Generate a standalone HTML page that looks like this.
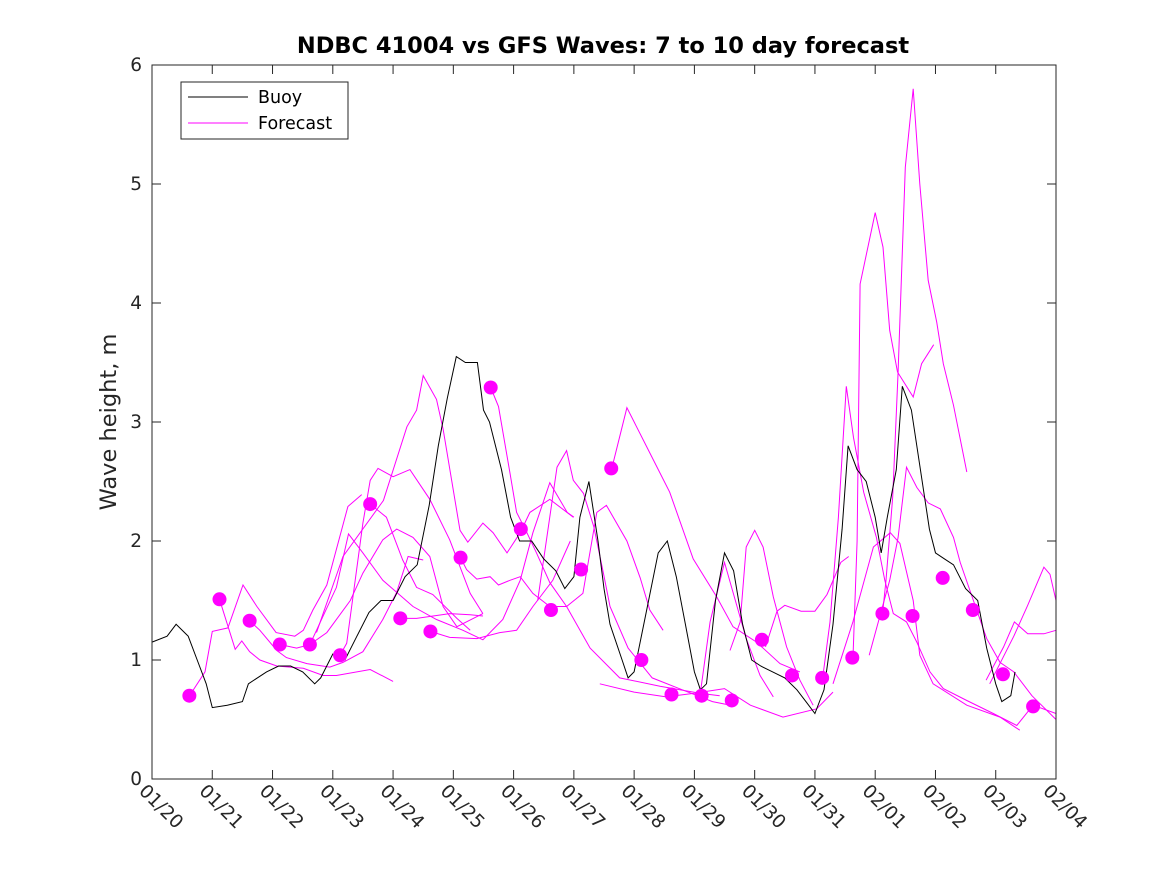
<!DOCTYPE html>
<html><head><meta charset="utf-8"><style>
body{margin:0;background:#fff}
svg{display:block;font-family:"DejaVu Sans","Liberation Sans",sans-serif}
</style></head><body>
<svg id="chart" width="1167" height="875" viewBox="0 0 1167 875">
<rect width="1167" height="875" fill="#fff"/>
<text x="603" y="53" text-anchor="middle" font-size="22.5" font-weight="bold" fill="#000">NDBC 41004 vs GFS Waves: 7 to 10 day forecast</text>
<text transform="translate(116,422) rotate(-90)" text-anchor="middle" font-size="22.5" fill="#262626">Wave height, m</text>
<g id="plot"></g>
<g id="axes"></g>
<g>
<rect x="181" y="82" width="167" height="57" fill="#fff" stroke="#262626" stroke-width="1"/>
<line x1="188" y1="97" x2="248" y2="97" stroke="#000" stroke-width="1"/>
<text x="258" y="103" font-size="17.5" fill="#000">Buoy</text>
<line x1="188" y1="123" x2="248" y2="123" stroke="#ff00ff" stroke-width="1"/>
<text x="258" y="129" font-size="17.5" fill="#000">Forecast</text>
</g>
</svg>
<script>
// x in days since 01/20, y in metres
const xTickLabels=["01/20","01/21","01/22","01/23","01/24","01/25","01/26","01/27","01/28","01/29","01/30","01/31","02/01","02/02","02/03","02/04"];
const yTickLabels=["0","1","2","3","4","5","6"];
const buoyDays=[0,0.25,0.4,0.6,0.75,0.9,1.0,1.25,1.5,1.6,1.9,2.1,2.3,2.5,2.7,2.8,3.0,3.2,3.4,3.6,3.8,4.0,4.2,4.4,4.6,4.75,4.9,5.05,5.2,5.4,5.5,5.6,5.8,5.95,6.1,6.3,6.5,6.7,6.85,7.0,7.1,7.25,7.4,7.5,7.6,7.8,7.9,8.0,8.2,8.4,8.55,8.7,8.85,9.0,9.1,9.2,9.35,9.5,9.65,9.8,9.95,10.1,10.3,10.5,10.7,10.85,11.0,11.15,11.3,11.45,11.55,11.7,11.85,12.0,12.1,12.2,12.35,12.45,12.6,12.75,12.9,13.0,13.15,13.3,13.5,13.7,13.85,14.0,14.1,14.25,14.32];
const buoyHeights=[1.15,1.2,1.3,1.2,1.0,0.8,0.6,0.62,0.65,0.8,0.9,0.95,0.95,0.9,0.8,0.85,1.05,1.0,1.2,1.4,1.5,1.5,1.7,1.8,2.3,2.8,3.2,3.55,3.5,3.5,3.1,3.0,2.6,2.2,2.0,2.0,1.85,1.75,1.6,1.7,2.2,2.5,2.0,1.6,1.3,1.0,0.85,0.9,1.4,1.9,2.0,1.7,1.3,0.9,0.75,0.8,1.5,1.9,1.75,1.3,1.0,0.95,0.9,0.85,0.75,0.65,0.55,0.75,1.3,2.1,2.8,2.6,2.5,2.2,1.9,2.2,2.6,3.3,3.1,2.6,2.1,1.9,1.85,1.8,1.6,1.5,1.1,0.8,0.65,0.7,0.9];
const dotDays=[0.62,1.12,1.62,2.12,2.62,3.12,3.62,4.12,4.62,5.12,5.62,6.12,6.62,7.12,7.62,8.12,8.62,9.12,9.62,10.12,10.62,11.12,11.62,12.12,12.62,13.12,13.62,14.12,14.62];
const dotHeights=[0.70,1.51,1.33,1.13,1.13,1.04,2.31,1.35,1.24,1.86,3.29,2.10,1.42,1.76,2.61,1.00,0.71,0.70,0.66,1.17,0.87,0.85,1.02,1.39,1.37,1.69,1.42,0.88,0.61];
const fcA=[[0.61,0.69],[0.88,0.90],[1.0,1.24],[1.26,1.27],[1.51,1.63],[1.74,1.45],[2.06,1.23],[2.37,1.20],[2.51,1.25],[2.67,1.42],[2.90,1.63],[3.25,2.29],[3.48,2.39]];
const fcB=[[1.12,1.51],[1.38,1.09],[1.49,1.16],[1.62,1.07],[1.79,1.0],[2.07,0.95],[2.51,0.93],[2.84,0.87],[3.06,0.87],[3.62,0.92],[4.0,0.82]];
const fcC=[[1.62,1.33],[1.79,1.25],[2.07,1.08],[2.23,1.02],[2.57,0.97],[2.95,0.94],[3.17,0.98],[3.50,1.07],[3.83,1.34],[4.06,1.57],[4.25,1.87],[4.50,1.84]];
const fcD=[[2.12,1.13],[2.40,1.10],[2.62,1.13],[2.90,1.23],[3.29,1.50],[3.50,1.73],[3.83,2.01],[4.06,2.10],[4.33,2.03],[4.61,1.87],[4.83,1.45],[5.06,1.28],[5.49,1.39]];
const fcE=[[2.62,1.13],[2.73,1.25],[3.06,1.61],[3.26,2.06],[3.50,1.90],[3.83,1.67],[4.33,1.45],[4.72,1.34],[5.16,1.25],[5.49,1.17],[5.82,1.34],[6.11,1.67],[6.32,2.07],[6.60,2.49],[6.89,2.24],[7.0,2.20]];
const fcF=[[3.12,1.04],[3.23,1.14],[3.50,2.15],[3.62,2.51],[3.75,2.61],[4.0,2.54],[4.28,2.60],[4.61,2.35],[4.94,2.01],[5.28,1.56],[5.49,1.39]];
const fcG=[[3.62,2.31],[3.89,2.20],[4.16,1.84],[4.39,1.61],[4.66,1.55],[5.06,1.35],[5.28,1.25]];
const fcH=[[2.73,1.23],[3.17,1.87],[3.84,2.34],[4.23,2.96],[4.39,3.10],[4.50,3.39],[4.72,3.19],[4.83,2.94],[5.11,2.09],[5.24,1.99],[5.49,2.15],[5.66,2.07],[5.89,1.90],[6.11,2.07],[6.27,2.24],[6.60,2.35],[6.99,2.20]];
const fcI=[[4.13,1.35],[4.39,1.35],[4.94,1.39],[5.28,1.38],[5.49,1.37]];
const fcJ=[[4.62,1.24],[4.94,1.19],[5.39,1.18],[5.77,1.23],[6.05,1.25],[6.32,1.45],[6.65,1.67],[6.94,2.0]];
const fcK=[[5.12,1.86],[5.22,1.76],[5.39,1.68],[5.61,1.70],[5.75,1.63],[5.94,1.67],[6.11,1.70],[6.32,1.56],[6.60,1.45],[6.88,1.45],[7.15,1.56],[7.38,2.24],[7.54,2.30],[7.88,2.0],[8.10,1.69],[8.26,1.42],[8.48,1.25]];
const fcL=[[5.62,3.29],[5.75,3.13],[5.94,2.57],[6.05,2.24],[6.22,2.07],[6.38,1.90],[6.60,1.65],[6.88,1.45],[7.27,1.1],[7.76,0.85],[8.43,0.78],[9.09,0.72],[9.42,0.7]];
const fcM=[[7.63,2.61],[7.88,3.12],[8.26,2.74],[8.59,2.41],[8.98,1.85],[9.37,1.53],[9.64,1.28],[10.03,1.15],[10.42,0.97],[10.75,0.90]];
const fcN=[[11.63,1.0],[11.70,2.0],[11.75,4.16],[12.0,4.76],[12.13,4.47],[12.24,3.77],[12.37,3.42],[12.63,3.21],[12.77,3.49],[12.97,3.65]];
const fcO=[[12.12,1.38],[12.18,1.67],[12.29,2.37],[12.38,3.42],[12.50,5.14],[12.63,5.80],[12.74,5.0],[12.88,4.19],[13.02,3.84],[13.13,3.49],[13.30,3.14],[13.52,2.58]];
const fcP=[[11.12,0.82],[11.25,1.32],[11.39,2.2],[11.52,3.30],[11.64,2.87],[11.81,2.41],[12.02,2.03],[12.16,1.67],[12.30,1.39],[12.52,1.32],[12.69,1.15],[12.91,0.90],[13.13,0.76],[13.52,0.66],[13.96,0.55],[14.35,0.45],[14.62,0.62],[15.0,0.55]];
const fcQ=[[11.90,1.04],[12.24,1.67],[12.38,2.03],[12.52,2.62],[12.69,2.45],[12.88,2.32],[13.08,2.27],[13.30,2.03],[13.41,1.82],[13.63,1.50],[13.85,1.18],[14.07,0.98],[14.3,0.9],[14.6,0.7],[15.0,0.5]];
const fcR1=[[13.84,0.83],[14.13,1.11],[14.31,1.32],[14.53,1.22],[14.8,1.22],[15.0,1.25]];
const fcR2=[[13.9,0.8],[14.3,1.2],[14.53,1.46],[14.8,1.78],[14.9,1.72],[15.0,1.5]];
const fcS=[[9.59,1.08],[9.76,1.32],[9.86,1.95],[10.0,2.09],[10.14,1.95],[10.31,1.53],[10.53,1.11],[10.75,0.83],[10.97,0.62]];
const fcT=[[9.09,0.69],[9.26,1.32],[9.50,1.82],[9.64,1.57],[9.86,1.18],[10.09,0.87],[10.31,0.69]];
const fcU=[[7.43,0.80],[8.0,0.73],[8.53,0.69],[9.0,0.72],[9.5,0.76],[9.93,0.62],[10.47,0.52],[11.03,0.59],[11.3,0.73]];
const fcV=[[6.40,1.50],[6.72,2.62],[6.88,2.76],[6.99,2.51],[7.16,2.40],[7.33,2.12],[7.49,1.73],[7.60,1.45],[7.9,1.1],[8.3,0.85],[8.8,0.75],[9.3,0.65],[9.6,0.62]];
const fcW=[[11.3,0.8],[11.63,1.32],[11.97,1.95],[12.25,2.07],[12.41,1.98],[12.63,1.50],[12.74,1.04],[12.96,0.80],[13.52,0.62],[14.07,0.52],[14.4,0.41]];
const fcX=[[10.18,1.11],[10.37,1.41],[10.5,1.46],[10.77,1.41],[11.0,1.41],[11.2,1.55],[11.43,1.82],[11.56,1.87]];
const forecasts=[fcA,fcB,fcC,fcD,fcE,fcF,fcG,fcH,fcI,fcJ,fcK,fcL,fcM,fcN,fcO,fcP,fcQ,fcR1,fcR2,fcS,fcT,fcU,fcV,fcW,fcX];

const X0=152,X1=1056,Y0=779,Y1=65,XMAX=15,YMAX=6;
const xs=d=>X0+(X1-X0)*d/XMAX;
const ys=v=>Y0-(Y0-Y1)*v/YMAX;
const NS="http://www.w3.org/2000/svg";
const plot=document.getElementById('plot'), axes=document.getElementById('axes');
function mk(tag,attrs,parent){const e=document.createElementNS(NS,tag);for(const k in attrs)e.setAttribute(k,attrs[k]);parent.appendChild(e);return e;}

forecasts.forEach((f,i)=>{
  const pl=mk('polyline',{points:f.map(p=>xs(p[0]).toFixed(1)+','+ys(p[1]).toFixed(1)).join(' '),fill:'none',stroke:'#ff00ff','stroke-width':1},plot);
  
  
});
const bl=mk('polyline',{points:buoyDays.map((d,i)=>xs(d).toFixed(1)+','+ys(buoyHeights[i]).toFixed(1)).join(' '),fill:'none',stroke:'#000','stroke-width':1},plot);


dotDays.forEach((d,i)=>{
  const c=mk('circle',{cx:xs(d),cy:ys(dotHeights[i]),r:7,fill:'#ff00ff'},plot);
  
  
});

const box=mk('rect',{x:X0,y:Y1,width:X1-X0,height:Y0-Y1,fill:'none',stroke:'#262626','stroke-width':1},axes);


xTickLabels.forEach((lab,i)=>{
  const x=xs(i);
  mk('line',{x1:x,y1:Y0,x2:x,y2:Y0-9,stroke:'#262626'},axes);
  mk('line',{x1:x,y1:Y1,x2:x,y2:Y1+9,stroke:'#262626'},axes);
  const t=mk('text',{x:0,y:0,'font-size':18.5,fill:'#262626',transform:`translate(${x-14},${Y0+13}) rotate(45)`},axes);
  t.textContent=lab;
  
  
});
yTickLabels.forEach((lab,i)=>{
  const y=ys(i);
  mk('line',{x1:X0,y1:y,x2:X0+9,y2:y,stroke:'#262626'},axes);
  mk('line',{x1:X1,y1:y,x2:X1-9,y2:y,stroke:'#262626'},axes);
  const t=mk('text',{x:X0-10,y:y+6,'font-size':18.5,fill:'#262626','text-anchor':'end'},axes);
  t.textContent=lab;
  
  
});
</script>
</body></html>
